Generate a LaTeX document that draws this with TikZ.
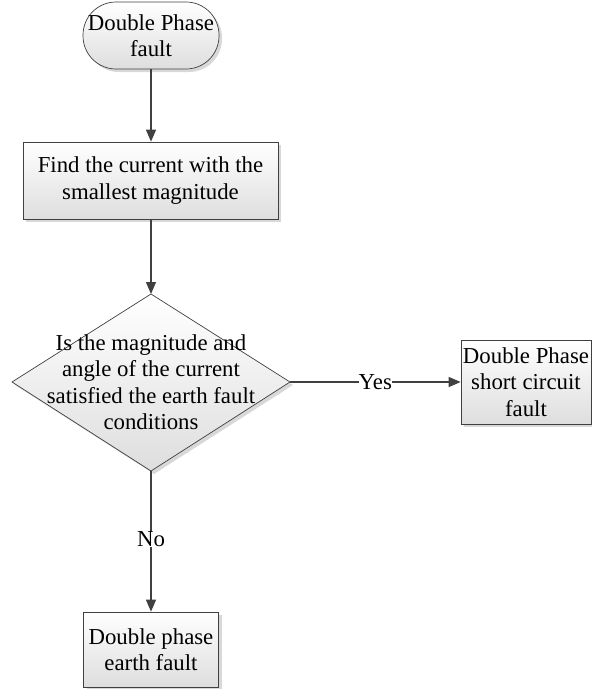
\documentclass[tikz,border=0pt]{standalone}
\usepackage{fontspec}
\setmainfont{Liberation Serif}
\newfontfamily\tnr{Liberation Serif}
\usetikzlibrary{shapes.geometric,arrows.meta,shadows}
\begin{document}
\begin{tikzpicture}[x=1pt,y=-1pt,
  every node/.style={font=\tnr\fontsize{22.8}{26.5}\selectfont},
  boxbase/.style={draw=black!75, line width=0.7pt, top color=white, bottom color=black!13,
     drop shadow={shadow xshift=3pt, shadow yshift=-3pt, fill=black!22, opacity=0.7},
     align=center, inner sep=0pt},
  procbox/.style={boxbase, rectangle},
  conn/.style={draw=black!75, line width=1.3pt, -{Triangle[length=12pt,width=10pt]}},
  lbl/.style={fill=white, inner sep=0pt}
]
\useasboundingbox (0,0) rectangle (592,689);
\node[procbox, minimum width=136pt, minimum height=67pt, rounded corners=33pt] (start) at (151,35.5) {Double Phase\\fault};
\node[procbox, minimum width=255pt, minimum height=77pt] (find) at (150.5,180.5) {Find the current with the\\smallest magnitude};
\draw[draw=black!75, line width=0.7pt, top color=white, bottom color=black!13,
     drop shadow={shadow xshift=3pt, shadow yshift=-3pt, fill=black!22, opacity=0.7}]
  (151,294) coordinate (dtop) -- (290,382) coordinate (dright) -- (151,471) coordinate (dbot) -- (12,382) coordinate (dleft) -- cycle;
\node[align=center, inner sep=0pt] (dec) at (151,382) {Is the magnitude and\\angle of the current\\satisfied the earth fault\\conditions};
\node[procbox, minimum width=130pt, minimum height=84pt] (yesbox) at (526,382) {Double Phase\\short circuit\\fault};
\node[procbox, minimum width=135pt, minimum height=75pt] (nobox) at (151,649.5) {Double phase\\earth fault};
\draw[conn] (start.south) -- (find.north -| start.south);
\draw[conn] (find.south -| dtop) -- (dtop);
\draw[conn] (dright) -- node[lbl, pos=0.5] {Yes} (yesbox.west |- dright);
\draw[conn] (dbot) -- node[lbl, pos=0.485] {No} (nobox.north -| dbot);
\end{tikzpicture}
\end{document}
